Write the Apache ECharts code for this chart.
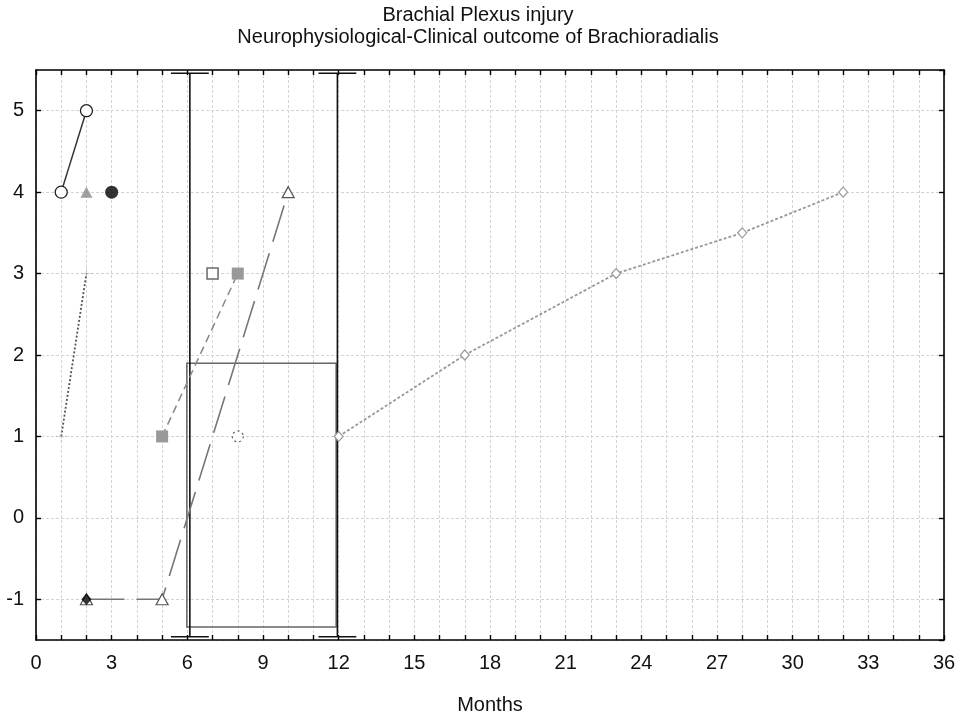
<!DOCTYPE html>
<html>
<head>
<meta charset="utf-8">
<title>Brachial Plexus injury</title>
<script src="https://cdn.jsdelivr.net/npm/echarts@6/dist/echarts.min.js"></script>
<style>
  html, body { margin: 0; padding: 0; background: #fff; }
  #chart { width: 956px; height: 717px; }
</style>
</head>
<body>
<div id="chart"></div>
<script>
// months / score pairs
var circleMonths = [1, 2], circleScores = [4, 5]
var grayTriMonths = [2], grayTriScores = [4]
var dotMonths = [3], dotScores = [4]
var dottedMonths = [1, 2], dottedScores = [1, 3]
var openSqMonths = [7], openSqScores = [3]
var graySqMonths = [5, 8], graySqScores = [1, 3]
var openTriMonths = [2, 5, 10], openTriScores = [-1, -1, 4]
var diamondMonths = [2], diamondScores = [-1]
var ringMonths = [8], ringScores = [1]
var openDiaMonths = [12, 17, 23, 28, 32], openDiaScores = [1, 2, 3, 3.5, 4]

// box and whiskers
var boxMonths = [5.98, 11.9], boxScores = [-1.34, 1.9]
var whiskerMonths = [6.1, 11.95], whiskerScores = [-1.46, 5.46]
var capHalf = 0.75

var titleText = 'Brachial Plexus injury\nNeurophysiological-Clinical outcome of Brachioradialis'
var xName = 'Months'

function pairs(xs, ys) {
    var out = []
    for (var i = 0; i < xs.length; i++) out.push([xs[i], ys[i]])
    return out
}

var font = 'Liberation Sans, Arial, sans-serif'
var chart = echarts.init(document.getElementById('chart'))

var gridLine = { show: true, lineStyle: { color: '#d4d4d4', type: [3, 2], width: 1 } }
var axisLine = { show: true, onZero: false, lineStyle: { color: '#000', width: 1.6 } }
var tick = { show: true, inside: true, length: 5, lineStyle: { color: '#000', width: 1.4 } }

function xAx(pos, labels) {
    return {
        type: 'value', position: pos, min: 0, max: 36, interval: 3,
        axisLine: axisLine, axisTick: tick,
        minorTick: { show: true, splitNumber: 3, length: 5, lineStyle: { color: '#000', width: 1.4 } },
        splitLine: labels ? gridLine : { show: false },
        minorSplitLine: labels ? gridLine : { show: false },
        axisLabel: { show: labels, fontSize: 20, color: '#111', fontFamily: font, margin: 13 },
        name: labels ? xName : '', nameLocation: 'middle', nameGap: 55,
        nameTextStyle: { fontSize: 20, color: '#111', fontFamily: font }
    }
}
function yAx(pos, labels) {
    return {
        type: 'value', position: pos, min: -1.5, max: 5.5, splitNumber: 7,
        minInterval: 1, maxInterval: 1,
        axisLine: axisLine, axisTick: tick,
        splitLine: labels ? gridLine : { show: false },
        axisLabel: { show: labels, fontSize: 20, color: '#111', fontFamily: font, margin: 12,
            showMinLabel: false, showMaxLabel: false,
            formatter: function (v) { return v % 1 === 0 ? String(v) : '' } }
    }
}

var option = {
    animation: false,
    backgroundColor: '#fff',
    title: {
        text: titleText, left: 'center', top: 4, padding: 0,
        textStyle: { fontSize: 20, fontWeight: 'normal', color: '#111', fontFamily: font, lineHeight: 22 }
    },
    grid: { left: 36, right: 12, top: 70, bottom: 77, containLabel: false, outerBoundsMode: 'none' },
    xAxis: [xAx('bottom', true), xAx('top', false)],
    yAxis: [yAx('left', true), yAx('right', false)],
    series: [
        {
            // box
            type: 'custom',
            data: [[boxMonths[0], boxScores[0], boxMonths[1], boxScores[1]]],
            renderItem: function (params, api) {
                var p0 = api.coord([api.value(0), api.value(1)])
                var p1 = api.coord([api.value(2), api.value(3)])
                return {
                    type: 'rect',
                    shape: { x: p0[0], y: p1[1], width: p1[0] - p0[0], height: p0[1] - p1[1] },
                    style: { fill: 'none', stroke: '#666', lineWidth: 1.5 }
                }
            },
            z: 2
        },
        {
            // whiskers
            type: 'custom',
            data: whiskerMonths.map(function (m) { return [m, whiskerScores[0], whiskerScores[1]] }),
            renderItem: function (params, api) {
                var m = api.value(0)
                var lo = api.coord([m, api.value(1)])
                var hi = api.coord([m, api.value(2)])
                var l1 = api.coord([m - capHalf, api.value(1)])
                var r1 = api.coord([m + capHalf, api.value(1)])
                var l2 = api.coord([m - capHalf, api.value(2)])
                var r2 = api.coord([m + capHalf, api.value(2)])
                var st = { stroke: '#111', lineWidth: 1.6 }
                return {
                    type: 'group',
                    children: [
                        { type: 'line', shape: { x1: lo[0], y1: lo[1], x2: hi[0], y2: hi[1] }, style: st },
                        { type: 'line', shape: { x1: l1[0], y1: l1[1], x2: r1[0], y2: r1[1] }, style: st },
                        { type: 'line', shape: { x1: l2[0], y1: l2[1], x2: r2[0], y2: r2[1] }, style: st }
                    ]
                }
            },
            z: 3
        },
        {
            type: 'line', data: pairs(openDiaMonths, openDiaScores),
            symbol: 'diamond', symbolSize: [9, 10],
            itemStyle: { color: '#fff', borderColor: '#999', borderWidth: 1.2 },
            lineStyle: { color: '#999', width: 1.8, type: [3, 2] }, z: 4
        },
        {
            type: 'line', data: pairs(dottedMonths, dottedScores),
            symbol: 'path://M5,0L5,10M0,5L10,5', symbolSize: 10,
            itemStyle: { color: '#fff', borderColor: '#aaa', borderWidth: 1, borderType: [1, 2] },
            lineStyle: { color: '#555', width: 1.8, type: [2, 2] }, z: 4
        },
        {
            type: 'line', data: pairs(graySqMonths, graySqScores),
            symbol: 'rect', symbolSize: 12,
            itemStyle: { color: '#999', borderColor: '#999', borderWidth: 0 },
            lineStyle: { color: '#888', width: 1.5, type: [8, 5] }, z: 5
        },
        {
            type: 'line', data: pairs(openTriMonths, openTriScores),
            symbol: 'triangle', symbolSize: [12, 11],
            itemStyle: { color: '#fff', borderColor: '#555', borderWidth: 1.2 },
            lineStyle: { color: '#777', width: 1.6, type: [38, 12] }, z: 5
        },
        {
            type: 'line', data: pairs(circleMonths, circleScores),
            symbol: 'circle', symbolSize: 12,
            itemStyle: { color: '#fff', borderColor: '#222', borderWidth: 1.3 },
            lineStyle: { color: '#333', width: 1.5 }, z: 6
        },
        {
            type: 'scatter', data: pairs(grayTriMonths, grayTriScores),
            symbol: 'triangle', symbolSize: [12, 11],
            itemStyle: { color: '#888' }, z: 6
        },
        {
            type: 'scatter', data: pairs(dotMonths, dotScores),
            symbol: 'circle', symbolSize: 13,
            itemStyle: { color: '#000' }, z: 6
        },
        {
            type: 'scatter', data: pairs(openSqMonths, openSqScores),
            symbol: 'rect', symbolSize: 11,
            itemStyle: { color: '#fff', borderColor: '#444', borderWidth: 1.5 }, z: 6
        },
        {
            type: 'scatter', data: pairs(diamondMonths, diamondScores),
            symbol: 'diamond', symbolSize: [10, 12],
            itemStyle: { color: '#000' }, z: 7
        },
        {
            type: 'scatter', data: pairs(ringMonths, ringScores),
            symbol: 'circle', symbolSize: 11,
            itemStyle: { color: '#fff', borderColor: '#333', borderWidth: 1.2, borderType: [2, 3] }, z: 6
        }
    ]
}
chart.setOption(option)
</script>
</body>
</html>
